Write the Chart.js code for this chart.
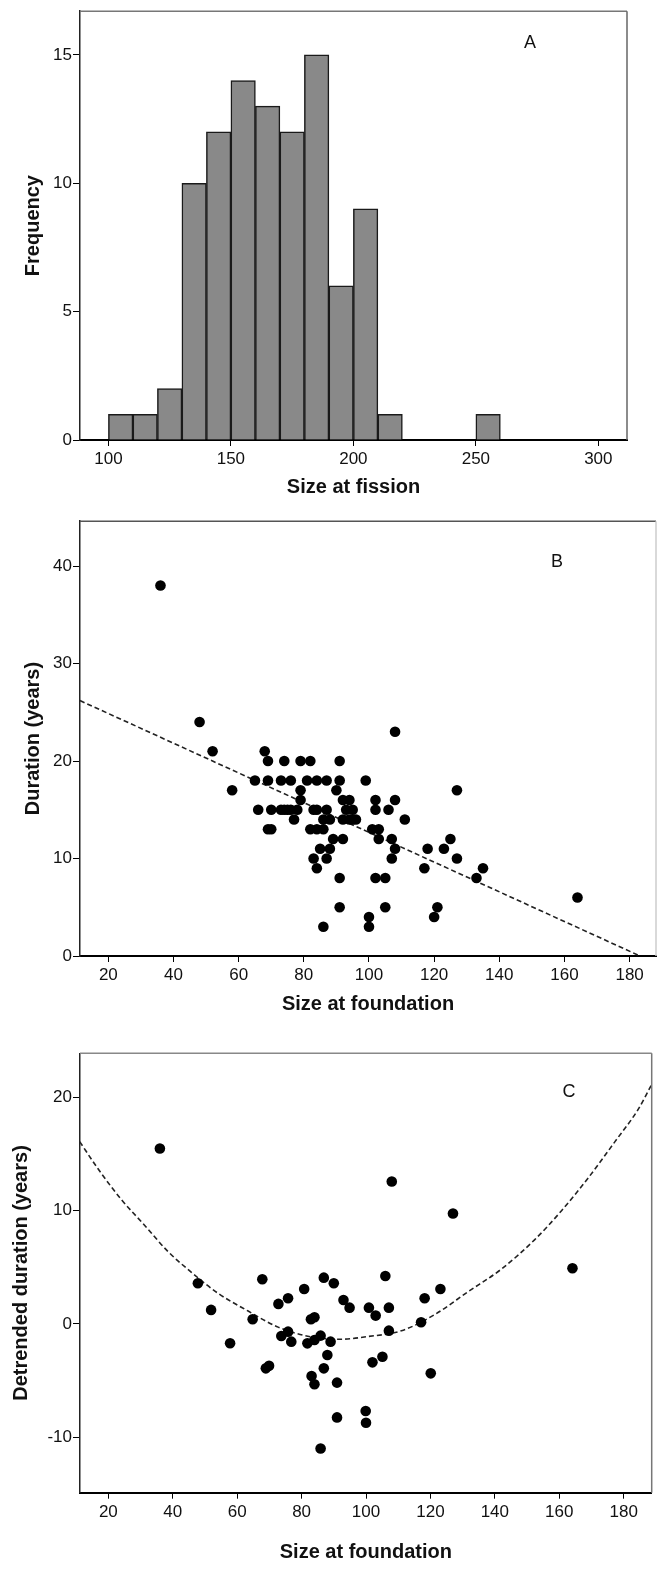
<!DOCTYPE html>
<html><head><meta charset="utf-8">
<script src="https://cdn.jsdelivr.net/npm/chart.js@4.4.1/dist/chart.umd.min.js"></script>
<style>
html,body{margin:0;padding:0;background:#fff;}
#wrap{position:relative;width:658px;height:1570px;overflow:hidden;}
canvas{position:absolute;left:0;}
</style></head><body>
<div id="wrap">
<canvas id="cA" width="658" height="510" style="top:0;width:658px;height:510px"></canvas>
<canvas id="cB" width="658" height="520" style="top:510px;width:658px;height:520px"></canvas>
<canvas id="cC" width="658" height="540" style="top:1030px;width:658px;height:540px"></canvas>
</div>
<script>
// ---------- Panel A: histogram of size at fission ----------
const binCenters = [105, 115, 125, 135, 145, 155, 165, 175, 185, 195, 205, 215, 255];
const binCounts  = [1, 1, 2, 10, 12, 14, 13, 12, 15, 6, 9, 1, 1];
const aXTicks = [100, 150, 200, 250, 300];
const aYTicks = [0, 5, 10, 15];

// ---------- Panel B: duration vs size at foundation ----------
const bX = [36,48,52,58,65,66,68,69,69,69,70,70,73,73,74,74,75,76,76,77,78,79,79,79,81,82,82,83,83,84,84,84,84,85,86,86,86,87,87,87,88,88,89,90,91,91,91,91,92,92,92,93,94,94,95,95,96,99,100,100,101,102,102,102,103,103,105,105,106,107,107,108,108,108,111,117,118,120,121,123,125,127,127,133,135,164];
const bY = [38,24,21,17,18,15,21,20,18,13,13,15,18,15,20,15,15,18,15,14,15,20,17,16,18,20,13,15,10,18,15,13,9,11,14,13,3,18,15,10,14,11,12,17,20,18,8,5,16,14,12,15,16,14,15,14,14,18,4,3,13,16,15,8,13,12,8,5,15,12,10,23,16,11,14,9,11,4,5,11,12,17,10,8,9,6];
const bLineX = [11.3, 183.2];
const bLineY = [26.2, 0];
const bXTicks = [20, 40, 60, 80, 100, 120, 140, 160, 180];
const bYTicks = [0, 10, 20, 30, 40];

// ---------- Panel C: detrended duration vs size at foundation ----------
const cX = [36,47.8,51.9,57.8,64.8,67.8,68.9,69.9,72.8,73.7,75.8,75.8,76.8,80.8,81.8,82.9,84,83.1,84,84,85.9,85.9,86.9,86.9,88,89,90,91,91,93,94.9,99.9,100,100.9,102,103,105.1,106,107.1,107.1,108,117.1,118.2,120.1,123.1,127,164.1];
const cY = [15.5,3.6,1.24,-1.7,0.41,3.95,-3.92,-3.7,1.77,-1.06,2.27,-0.68,-1.56,3.09,-1.71,0.41,0.59,-4.6,-5.33,-1.41,-1.03,-11.0,4.09,-3.92,-2.74,-1.56,3.59,-5.18,-8.25,2.12,1.44,-7.69,-8.72,1.44,-3.39,0.74,-2.89,4.24,1.44,-0.59,12.58,0.15,2.27,-4.36,3.09,9.75,4.92];
const cCurveX = [11.1, 16.8, 24, 31.3, 38.5, 45.8, 54.1, 63.4, 72.7, 83, 92, 100.6, 111, 121.4, 131.7, 142.1, 152.4, 160.7, 169, 177.3, 184.5, 188.6];
const cCurveY = [16.1, 13.7, 11.0, 8.7, 6.4, 4.56, 2.7, 1.14, -0.28, -1.14, -1.35, -1.11, -0.6, 0.84, 2.85, 4.86, 7.45, 10.0, 12.9, 16.1, 18.95, 21.1];
const cXTicks = [20, 40, 60, 80, 100, 120, 140, 160, 180];
const cYTicks = [-10, 0, 10, 20];

// ---------- helpers ----------
const FONT = "'Liberation Sans', Arial, sans-serif";
Chart.defaults.font.family = FONT;
Chart.defaults.color = '#111';
Chart.defaults.animation = false;

const pts = (xs, ys) => xs.map((x, i) => ({x: x, y: ys[i]}));

const framePlugin = {
  id: 'frame',
  afterDraw(chart, args, o) {
    const {ctx, chartArea: a} = chart;
    ctx.save();
    ctx.lineWidth = 1.5;
    ctx.strokeStyle = o.topColor;
    ctx.beginPath(); ctx.moveTo(a.left, a.top); ctx.lineTo(a.right, a.top); ctx.stroke();
    ctx.strokeStyle = o.rightColor;
    ctx.beginPath(); ctx.moveTo(a.right, a.top); ctx.lineTo(a.right, a.bottom); ctx.stroke();
    ctx.fillStyle = '#111';
    ctx.font = '18px ' + FONT;
    ctx.textAlign = 'center';
    ctx.textBaseline = 'middle';
    ctx.fillText(o.letter, o.lx, o.ly);
    ctx.restore();
  }
};

function xScale(min, max, ticks, title, axisH, padBottom) {
  return {
    type: 'linear', position: 'bottom', min: min, max: max, offset: false,
    afterBuildTicks: (s) => { s.ticks = ticks.map(v => ({value: v})); },
    afterFit: (s) => { s.height = axisH; },
    grid: {display: true, offset: false, drawOnChartArea: false, drawTicks: true, tickLength: 6, color: '#000', lineWidth: 1},
    border: {display: true, color: '#000', width: 2},
    ticks: {font: {size: 17}, color: '#111', padding: 3, maxRotation: 0, autoSkip: false,
            callback: (v) => String(v)},
    title: {display: true, text: title, font: {size: 20, weight: 'bold'}, color: '#111',
            padding: {top: 0, bottom: padBottom}}
  };
}
function yScale(min, max, ticks, title, padTop) {
  return {
    type: 'linear', position: 'left', min: min, max: max,
    afterBuildTicks: (s) => { s.ticks = ticks.map(v => ({value: v})); },
    afterFit: (s) => { s.width = 80; },
    grid: {display: true, drawOnChartArea: false, drawTicks: true, tickLength: 7, color: '#000', lineWidth: 1},
    border: {display: true, color: '#222', width: 1.5},
    ticks: {font: {size: 17}, color: '#111', padding: 1, autoSkip: false,
            callback: (v) => String(v)},
    title: {display: true, text: title, font: {size: 20, weight: 'bold'}, color: '#111',
            padding: {top: padTop, bottom: 0}}
  };
}
function baseOptions(layoutPad, scales, frame) {
  return {
    responsive: false, maintainAspectRatio: false, devicePixelRatio: 1, animation: false,
    layout: {padding: layoutPad, autoPadding: false},
    plugins: {legend: {display: false}, tooltip: {enabled: false}, frame: frame},
    scales: scales
  };
}

// ---------- Chart A ----------
new Chart(document.getElementById('cA'), {
  type: 'bar',
  data: {datasets: [{
    data: pts(binCenters, binCounts),
    backgroundColor: '#898989', borderColor: '#1a1a1a', borderWidth: 1.5,
    barPercentage: 1, categoryPercentage: 1, borderSkipped: 'start'
  }]},
  options: baseOptions({top: 8, right: 31, left: 0, bottom: 0}, {
    x: xScale(88.4, 311.7, aXTicks, 'Size at fission', 70, 11),
    y: yScale(0, 16.7, aYTicks, 'Frequency', 21)
  }, {topColor: '#777', rightColor: '#666', letter: 'A', lx: 530, ly: 43}),
  plugins: [framePlugin]
});

// ---------- Chart B ----------
new Chart(document.getElementById('cB'), {
  type: 'scatter',
  data: {datasets: [
    {data: pts(bX, bY), backgroundColor: '#000', borderColor: '#000', pointRadius: 5.3, pointBorderWidth: 0, order: 0},
    {data: pts(bLineX, bLineY), showLine: true, borderColor: '#222', borderWidth: 1.6, borderDash: [5, 3],
     pointRadius: 0, fill: false, order: 1}
  ]},
  options: baseOptions({top: 9.3, right: 2, left: 0, bottom: 0}, {
    x: xScale(11.3, 188.1, bXTicks, 'Size at foundation', 74, 13.3),
    y: yScale(0, 44.6, bYTicks, 'Duration (years)', 21)
  }, {topColor: '#555', rightColor: '#ccc', letter: 'B', lx: 557, ly: 52}),
  plugins: [framePlugin]
});

// ---------- Chart C ----------
new Chart(document.getElementById('cC'), {
  type: 'scatter',
  data: {datasets: [
    {data: pts(cX, cY), backgroundColor: '#000', borderColor: '#000', pointRadius: 5.3, pointBorderWidth: 0, order: 0},
    {data: pts(cCurveX, cCurveY), showLine: true, borderColor: '#222', borderWidth: 1.6, borderDash: [5, 3],
     pointRadius: 0, fill: false, tension: 0.4, cubicInterpolationMode: 'monotone', order: 1}
  ]},
  options: baseOptions({top: 23.3, right: 6.3, left: 0, bottom: 0}, {
    x: xScale(11.2, 188.7, cXTicks, 'Size at foundation', 77.3, 6),
    y: yScale(-14.9, 23.9, cYTicks, 'Detrended duration (years)', 9)
  }, {topColor: '#888', rightColor: '#777', letter: 'C', lx: 569, ly: 62}),
  plugins: [framePlugin]
});
</script>
</body></html>
